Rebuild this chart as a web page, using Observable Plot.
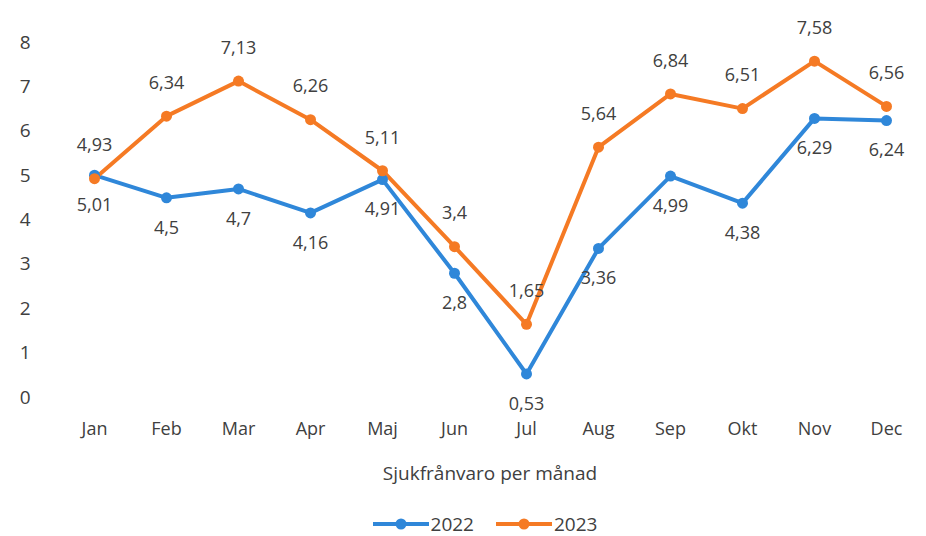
<!DOCTYPE html>
<html>
<head>
<meta charset="utf-8">
<script src="https://cdn.jsdelivr.net/npm/d3@7"></script>
<script src="https://cdn.jsdelivr.net/npm/@observablehq/plot@0.6"></script>
<style>
  body { margin: 0; background: #fff; font-family: "Open Sans", sans-serif; color: #404040; }
  #chart { width: 926px; }
  .xtitle { text-align: center; font-size: 19px; width: 926px; padding-left: 54px; box-sizing: border-box; margin-top: 8px; height: 30px; line-height: 30px; }
  .legend { display: flex; justify-content: center; align-items: center; gap: 22px; font-size: 19px; width: 926px; padding-left: 44px; box-sizing: border-box; margin-top: 23px; }
  .legend span { display: inline-flex; align-items: center; gap: 2px; }
</style>
</head>
<body>
<div id="chart"></div>
<div class="xtitle">Sjukfrånvaro per månad</div>
<div class="legend" id="legend"></div>
<script>
const months = ["Jan","Feb","Mar","Apr","Maj","Jun","Jul","Aug","Sep","Okt","Nov","Dec"];
const values2022 = [5.01, 4.5, 4.7, 4.16, 4.91, 2.8, 0.53, 3.36, 4.99, 4.38, 6.29, 6.24];
const values2023 = [4.93, 6.34, 7.13, 6.26, 5.11, 3.4, 1.65, 5.64, 6.84, 6.51, 7.58, 6.56];
const yTicks = [0, 1, 2, 3, 4, 5, 6, 7, 8];
const seriesNames = ["2022", "2023"];
const seriesColors = ["#2f87d9", "#f57a24"];

const d22 = months.map((m, i) => ({month: m, value: values2022[i]}));
const d23 = months.map((m, i) => ({month: m, value: values2023[i]}));
const fmt = v => String(v).replace(".", ",");

const chart = Plot.plot({
  width: 926,
  height: 450,
  marginLeft: 92,
  marginRight: 38,
  marginTop: 42,
  marginBottom: 53,
  style: {fontFamily: "'Open Sans', sans-serif", fontSize: "19px", color: "#404040", background: "#fff"},
  x: {type: "point", domain: months, padding: 0, label: null},
  y: {domain: [0, 8], label: null},
  marks: [
    Plot.axisY({ticks: yTicks, tickSize: 0, tickPadding: 62, tickFormat: d => String(d), label: null}),
    Plot.axisX({tickSize: 0, tickPadding: 25, fontSize: 18, label: null}),
    Plot.lineY(d22, {x: "month", y: "value", stroke: seriesColors[0], strokeWidth: 4}),
    Plot.lineY(d23, {x: "month", y: "value", stroke: seriesColors[1], strokeWidth: 4}),
    Plot.dot(d22, {x: "month", y: "value", fill: seriesColors[0], r: 5.5}),
    Plot.dot(d23, {x: "month", y: "value", fill: seriesColors[1], r: 5.5}),
    Plot.text(d22, {x: "month", y: "value", text: d => fmt(d.value), dy: 30, fill: "#404040", fontSize: 18}),
    Plot.text(d23, {x: "month", y: "value", text: d => fmt(d.value), dy: -33, fill: "#404040", fontSize: 18})
  ]
});
document.getElementById("chart").appendChild(chart);

const legend = document.getElementById("legend");
seriesNames.forEach((name, i) => {
  const s = document.createElement("span");
  s.innerHTML = `<svg width="56" height="14"><line x1="0" y1="7" x2="56" y2="7" stroke="${seriesColors[i]}" stroke-width="4"/><circle cx="28" cy="7" r="5.5" fill="${seriesColors[i]}"/></svg>${name}`;
  legend.appendChild(s);
});
</script>
</body>
</html>
